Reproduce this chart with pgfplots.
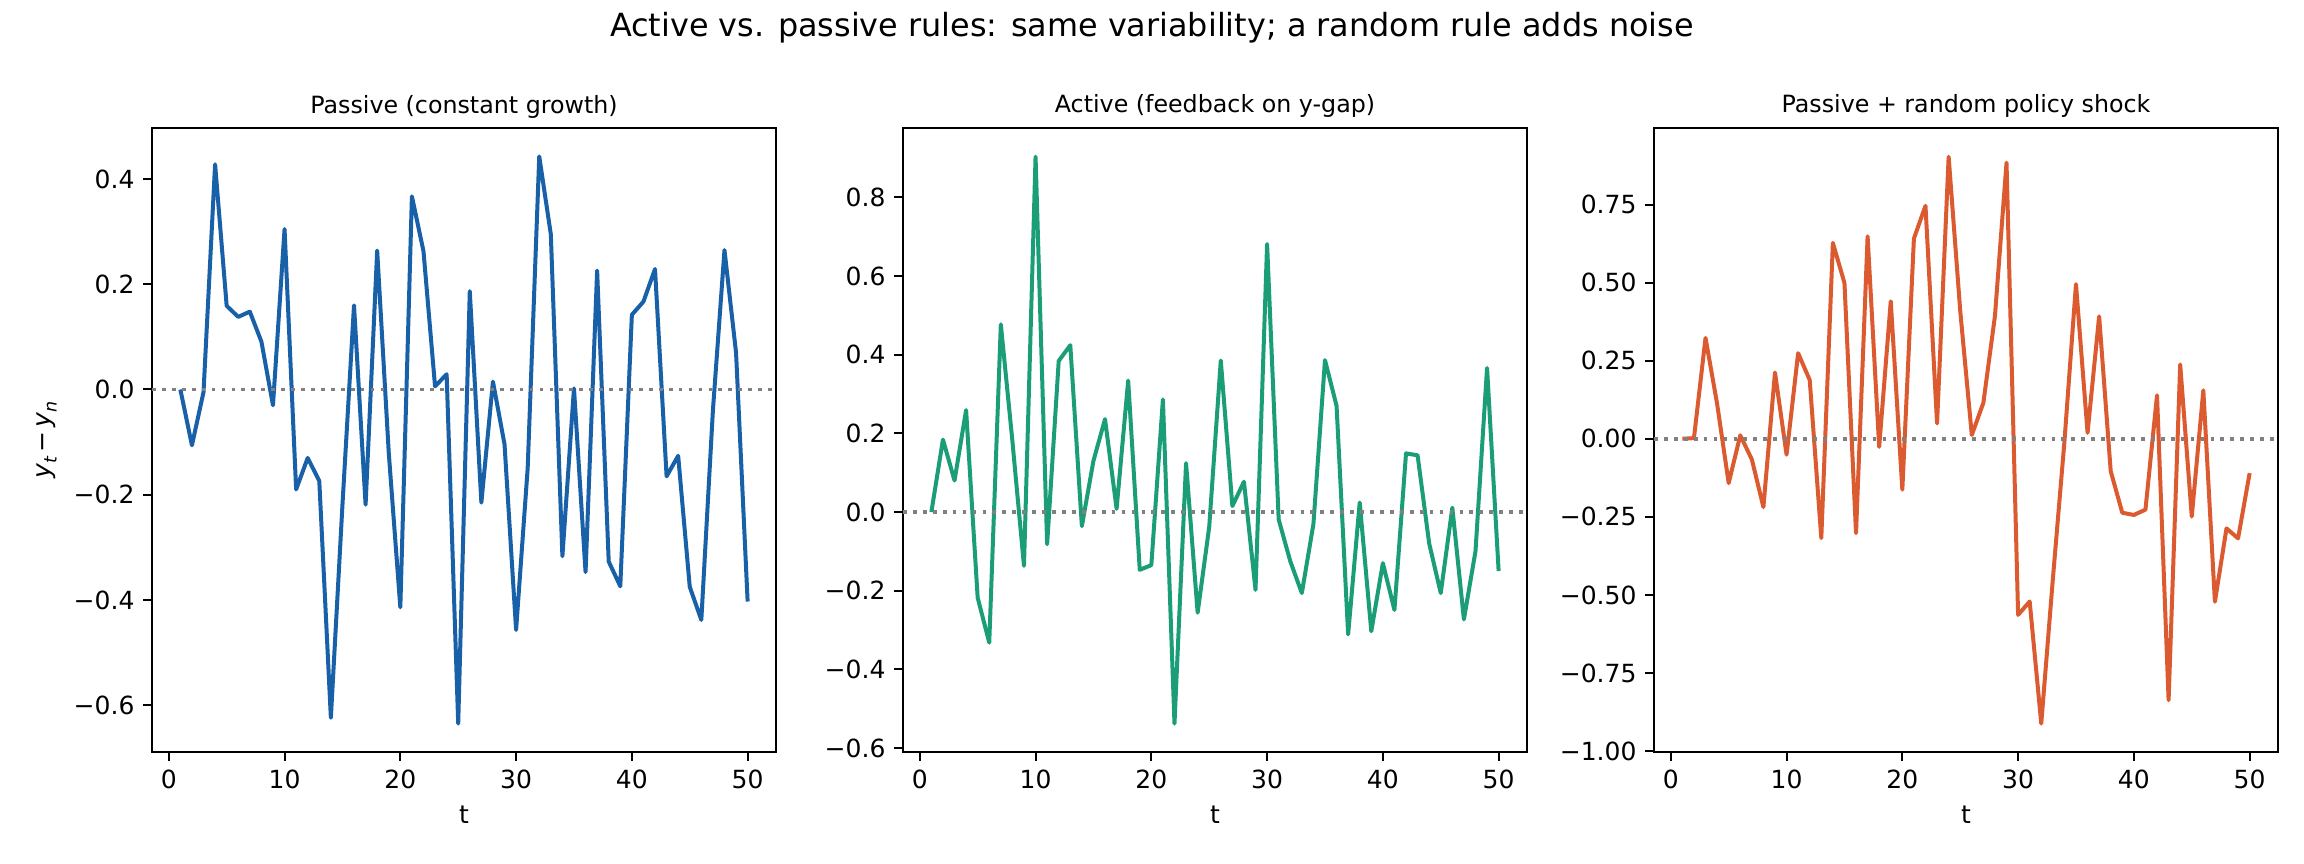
\documentclass[border=0pt]{standalone}
\usepackage{fontspec}
\setmainfont{DejaVu Sans}
\usepackage{pgfplots}
\pgfplotsset{compat=1.18}
\definecolor{cblue}{RGB}{24,96,168}
\definecolor{cgreen}{RGB}{27,158,119}
\definecolor{corange}{RGB}{220,90,48}
\definecolor{zgray}{RGB}{128,128,128}
\pgfplotsset{
  every axis title shift=0pt,
  panel/.style={
    scale only axis, width=249.6pt, height=249.6pt,
    anchor=south west,
    xmin=-1.45, xmax=52.45,
    xtick={0,10,20,30,40,50},
    axis line style={line width=0.8pt},
    every tick/.style={black, line width=0.8pt},
    major tick length=3.5pt,
    tick align=outside, tick pos=left,
    /pgf/number format/assume math mode=true,
    ticklabel style={font=\fontsize{10}{12}\selectfont},
    xlabel={t},
    xlabel style={font=\fontsize{10}{12}\selectfont},
    ylabel style={font=\fontsize{10}{12}\selectfont},
    title style={font=\fontsize{9.5}{11}\selectfont, at={(0.5,1)}, anchor=base, yshift=6pt, inner sep=0pt},
    clip=true,
  },
  dataline/.style={line width=1.6pt, line join=round},
  zeroline/.style={zgray, line width=1.5pt, dash pattern=on 1.5pt off 2.475pt},
}
\begin{document}
\begin{tikzpicture}
\useasboundingbox (0,0) rectangle (921.6pt,345.6pt);
\node[anchor=base, font=\fontsize{12.75}{15}\selectfont] at (460.8pt,330.9pt) {Active vs. passive rules: same variability; a random rule adds noise};

% Panel 1
\begin{axis}[panel, at={(60.8pt,44.8pt)},
  ymin=-0.689, ymax=0.497,
  ytick={-0.6,-0.4,-0.2,0,0.2,0.4},
  yticklabels={−0.6,−0.4,−0.2,0.0,0.2,0.4},
  title={Passive (constant growth)},
  ylabel={\textit{y}\raisebox{-0.45ex}{\fontsize{7}{8}\selectfont\textit{t}}\,−\,\textit{y}\raisebox{-0.45ex}{\fontsize{7}{8}\selectfont\textit{n}}},
]
\addplot[dataline, cblue] coordinates {
(1,0.0) (2,-0.106) (3,-0.005) (4,0.428) (5,0.159) (6,0.138) (7,0.148) (8,0.091) (9,-0.030) (10,0.305)
(11,-0.190) (12,-0.130) (13,-0.174) (14,-0.624) (15,-0.22) (16,0.160) (17,-0.219) (18,0.264) (19,-0.12) (20,-0.414)
(21,0.367) (22,0.263) (23,0.006) (24,0.029) (25,-0.635) (26,0.187) (27,-0.215) (28,0.015) (29,-0.104) (30,-0.457)
(31,-0.15) (32,0.443) (33,0.295) (34,-0.317) (35,0.002) (36,-0.347) (37,0.226) (38,-0.327) (39,-0.374) (40,0.142)
(41,0.167) (42,0.229) (43,-0.165) (44,-0.126) (45,-0.375) (46,-0.438) (47,-0.04) (48,0.265) (49,0.07) (50,-0.403)
};
\addplot[zeroline] coordinates {(-1.45,0) (52.45,0)};
\end{axis}

% Panel 2
\begin{axis}[panel, at={(361.2pt,44.8pt)},
  ymin=-0.610, ymax=0.976,
  ytick={-0.6,-0.4,-0.2,0,0.2,0.4,0.6,0.8},
  yticklabels={−0.6,−0.4,−0.2,0.0,0.2,0.4,0.6,0.8},
  title={Active (feedback on y-gap)},
]
\addplot[dataline, cgreen] coordinates {
(1,0.0) (2,0.184) (3,0.080) (4,0.259) (5,-0.218) (6,-0.332) (7,0.477) (8,0.18) (9,-0.137) (10,0.903)
(11,-0.082) (12,0.384) (13,0.424) (14,-0.036) (15,0.130) (16,0.236) (17,0.008) (18,0.334) (19,-0.147) (20,-0.135)
(21,0.286) (22,-0.538) (23,0.124) (24,-0.256) (25,-0.038) (26,0.385) (27,0.015) (28,0.077) (29,-0.198) (30,0.681)
(31,-0.019) (32,-0.125) (33,-0.206) (34,-0.031) (35,0.386) (36,0.270) (37,-0.311) (38,0.024) (39,-0.303) (40,-0.130)
(41,-0.249) (42,0.149) (43,0.144) (44,-0.080) (45,-0.206) (46,0.011) (47,-0.273) (48,-0.100) (49,0.366) (50,-0.150)
};
\addplot[zeroline] coordinates {(-1.45,0) (52.45,0)};
\end{axis}

% Panel 3
\begin{axis}[panel, at={(661.6pt,44.8pt)},
  ymin=-1.003, ymax=0.995,
  ytick={-1,-0.75,-0.5,-0.25,0,0.25,0.5,0.75},
  yticklabels={−1.00,−0.75,−0.50,−0.25,0.00,0.25,0.50,0.75},
  title={Passive + random policy shock},
]
\addplot[dataline, corange] coordinates {
(1,0.0) (2,0.002) (3,0.323) (4,0.112) (5,-0.142) (6,0.011) (7,-0.066) (8,-0.219) (9,0.212) (10,-0.051)
(11,0.274) (12,0.188) (13,-0.318) (14,0.627) (15,0.499) (16,-0.302) (17,0.648) (18,-0.026) (19,0.440) (20,-0.163)
(21,0.641) (22,0.746) (23,0.049) (24,0.903) (25,0.41) (26,0.012) (27,0.115) (28,0.393) (29,0.884) (30,-0.564)
(31,-0.521) (32,-0.912) (33,-0.45) (34,-0.01) (35,0.495) (36,0.019) (37,0.392) (38,-0.104) (39,-0.237) (40,-0.244)
(41,-0.227) (42,0.139) (43,-0.837) (44,0.238) (45,-0.249) (46,0.155) (47,-0.522) (48,-0.287) (49,-0.319) (50,-0.110)
};
\addplot[zeroline] coordinates {(-1.45,0) (52.45,0)};
\end{axis}
\end{tikzpicture}
\end{document}
